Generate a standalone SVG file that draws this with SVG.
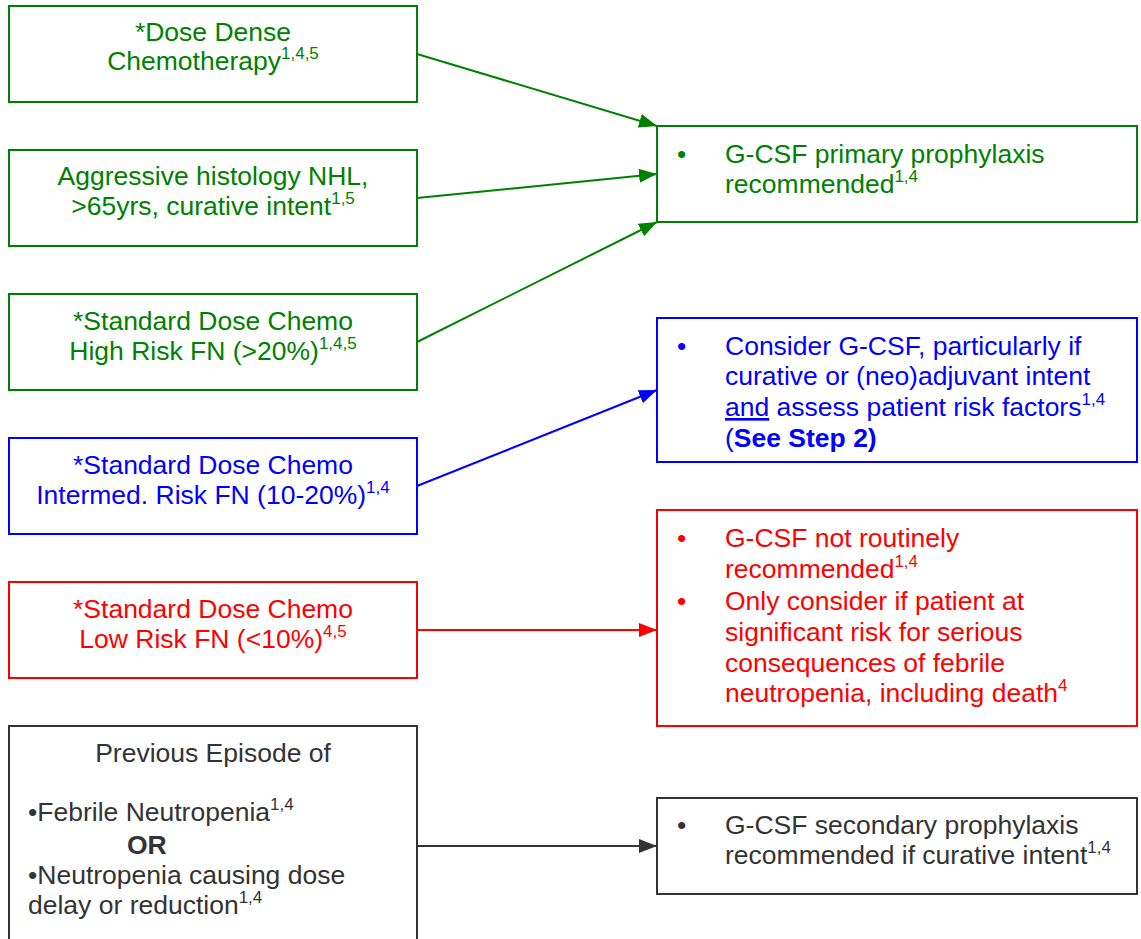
<svg xmlns="http://www.w3.org/2000/svg" width="1141" height="939" viewBox="0 0 1141 939">
<style>
text{font-family:"Liberation Sans",Arial,sans-serif;font-size:26.5px}
.box{fill:#fff;stroke-width:2}
.g{fill:#008000}.b{fill:#0000ff}.r{fill:#ff0000}.k{fill:#333}
.gs{stroke:#008000}.bs{stroke:#0000ff}.rs{stroke:#ff0000}.ks{stroke:#333}
.c{text-anchor:middle}
.sup{font-size:17px}
.bold{font-weight:bold}
.u{text-decoration:underline}
</style>
<defs>
<marker id="ag" viewBox="0 0 18 14" refX="18" refY="7" markerWidth="18" markerHeight="14" markerUnits="userSpaceOnUse" orient="auto"><path d="M0,0 L18,7 L0,14 z" fill="#008000"/></marker>
<marker id="ab" viewBox="0 0 18 14" refX="18" refY="7" markerWidth="18" markerHeight="14" markerUnits="userSpaceOnUse" orient="auto"><path d="M0,0 L18,7 L0,14 z" fill="#0000ff"/></marker>
<marker id="ar" viewBox="0 0 18 14" refX="18" refY="7" markerWidth="18" markerHeight="14" markerUnits="userSpaceOnUse" orient="auto"><path d="M0,0 L18,7 L0,14 z" fill="#ff0000"/></marker>
<marker id="ak" viewBox="0 0 18 14" refX="18" refY="7" markerWidth="18" markerHeight="14" markerUnits="userSpaceOnUse" orient="auto"><path d="M0,0 L18,7 L0,14 z" fill="#333"/></marker>
</defs>
<rect width="1141" height="939" fill="#fff"/>

<g id="connectors" stroke-width="2" fill="none">
<line x1="417" y1="54" x2="657" y2="126" class="gs" marker-end="url(#ag)"/>
<line x1="417" y1="198" x2="657" y2="174" class="gs" marker-end="url(#ag)"/>
<line x1="417" y1="342" x2="657" y2="222" class="gs" marker-end="url(#ag)"/>
<line x1="417" y1="486" x2="657" y2="390" class="bs" marker-end="url(#ab)"/>
<line x1="417" y1="630" x2="657" y2="630" class="rs" marker-end="url(#ar)"/>
<line x1="417" y1="846" x2="657" y2="846" class="ks" marker-end="url(#ak)"/>
</g>

<g id="n1">
<rect x="9" y="6" width="408" height="96" class="box gs"/>
<text x="213" y="41" class="c g">*Dose Dense</text>
<text x="213" y="70" class="c g">Chemotherapy<tspan class="sup" dy="-11">1,4,5</tspan></text>
</g>
<g id="n2">
<rect x="9" y="150" width="408" height="96" class="box gs"/>
<text x="213" y="185" class="c g">Aggressive histology NHL,</text>
<text x="213" y="215" class="c g">&gt;65yrs, curative intent<tspan class="sup" dy="-11">1,5</tspan></text>
</g>
<g id="n3">
<rect x="9" y="294" width="408" height="96" class="box gs"/>
<text x="213" y="330" class="c g">*Standard Dose Chemo</text>
<text x="213" y="360" class="c g">High Risk FN (&gt;20%)<tspan class="sup" dy="-11">1,4,5</tspan></text>
</g>
<g id="n4">
<rect x="9" y="438" width="408" height="96" class="box bs"/>
<text x="213" y="474" class="c b">*Standard Dose Chemo</text>
<text x="213" y="504" class="c b">Intermed. Risk FN (10-20%)<tspan class="sup" dy="-11">1,4</tspan></text>
</g>
<g id="n5">
<rect x="9" y="582" width="408" height="96" class="box rs"/>
<text x="213" y="618" class="c r">*Standard Dose Chemo</text>
<text x="213" y="648" class="c r">Low Risk FN (&lt;10%)<tspan class="sup" dy="-11">4,5</tspan></text>
</g>
<g id="n6">
<rect x="9" y="726" width="408" height="230" class="box ks"/>
<text x="213" y="762" class="c k">Previous Episode of</text>
<text x="28" y="821" class="k">•Febrile Neutropenia<tspan class="sup" dy="-11">1,4</tspan></text>
<text x="127" y="854" class="k bold">OR</text>
<text x="28" y="884" class="k">•Neutropenia causing dose</text>
<text x="28" y="914" class="k">delay or reduction<tspan class="sup" dy="-11">1,4</tspan></text>
</g>

<g id="r1">
<rect x="657" y="126" width="480" height="96" class="box gs"/>
<text x="677" y="163" class="g">•</text>
<text x="725" y="163" class="g">G-CSF primary prophylaxis</text>
<text x="725" y="193" class="g">recommended<tspan class="sup" dy="-11">1,4</tspan></text>
</g>
<g id="r2">
<rect x="657" y="318" width="480" height="144" class="box bs"/>
<text x="677" y="355" class="b">•</text>
<text x="725" y="355" class="b">Consider G-CSF, particularly if</text>
<text x="725" y="385" class="b">curative or (neo)adjuvant intent</text>
<text x="725" y="416" class="b"><tspan class="u">and</tspan> assess patient risk factors<tspan class="sup" dy="-11">1,4</tspan></text>
<text x="725" y="447" class="b">(<tspan class="bold">See Step 2)</tspan></text>
</g>
<g id="r3">
<rect x="657" y="510" width="480" height="216" class="box rs"/>
<text x="677" y="547" class="r">•</text>
<text x="725" y="547" class="r">G-CSF not routinely</text>
<text x="725" y="578" class="r">recommended<tspan class="sup" dy="-11">1,4</tspan></text>
<text x="677" y="610" class="r">•</text>
<text x="725" y="610" class="r">Only consider if patient at</text>
<text x="725" y="641" class="r">significant risk for serious</text>
<text x="725" y="672" class="r">consequences of febrile</text>
<text x="725" y="702" class="r">neutropenia, including death<tspan class="sup" dy="-11">4</tspan></text>
</g>
<g id="r4">
<rect x="657" y="798" width="480" height="96" class="box ks"/>
<text x="677" y="834" class="k">•</text>
<text x="725" y="834" class="k">G-CSF secondary prophylaxis</text>
<text x="725" y="864" class="k">recommended if curative intent<tspan class="sup" dy="-11">1,4</tspan></text>
</g>
</svg>
